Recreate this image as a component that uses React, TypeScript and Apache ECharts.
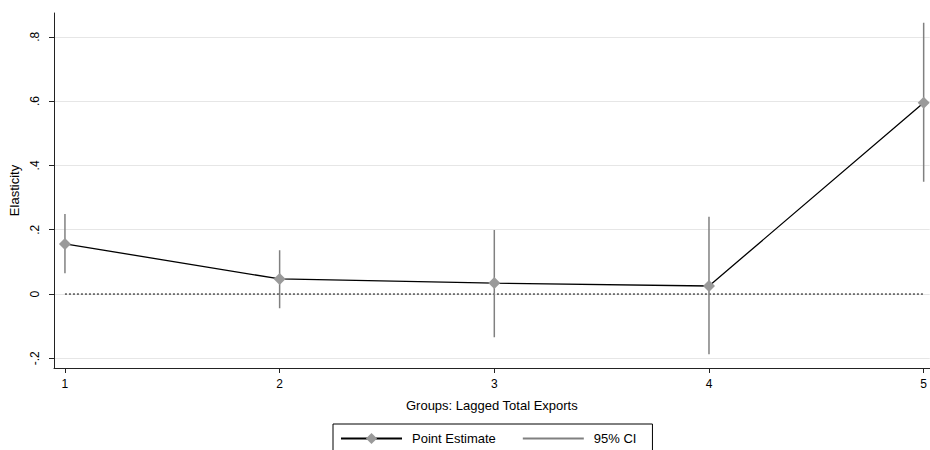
import React, { useEffect, useRef } from "react";
import * as echarts from "echarts";

const groups = [1, 2, 3, 4, 5];
const xTickLabels = ["1", "2", "3", "4", "5"];
const pointEstimates = [0.156, 0.047, 0.034, 0.025, 0.595];
const ciLower = [0.065, -0.044, -0.134, -0.187, 0.349];
const ciUpper = [0.249, 0.136, 0.199, 0.24, 0.844];
const yTickValues = [-0.2, 0, 0.2, 0.4, 0.6, 0.8];
const yTickLabels = ["-.2", "0", ".2", ".4", ".6", ".8"];
const referenceValue = 0;

const FONT = "'Liberation Sans', Arial, sans-serif";

export default function App() {
  const ref = useRef<HTMLDivElement>(null);
  useEffect(() => {
    const chart = echarts.init(ref.current!, null, { renderer: "svg" });
    const ciData: any[] = [];
    groups.forEach((g, i) => {
      ciData.push([g, ciLower[i]], [g, ciUpper[i]], [g, "-"]);
    });
    const estData = groups.map((g, i) => [g, pointEstimates[i]]);
    const zeroData = [
      [groups[0], referenceValue],
      [groups[groups.length - 1], referenceValue],
    ];
    const labelFor = (vals: number[], labels: string[]) => (v: number) => {
      const idx = vals.findIndex((t) => Math.abs(t - v) < 1e-9);
      return idx >= 0 ? labels[idx] : "";
    };
    chart.setOption({
      animation: false,
      textStyle: { fontFamily: FONT },
      grid: { left: 54, right: 0, top: 13, bottom: 82, containLabel: false },
      xAxis: {
        type: "value",
        min: 0.949,
        max: 5.028,
        name: "Groups: Lagged Total Exports",
        nameLocation: "middle",
        nameGap: 31,
        nameTextStyle: { fontSize: 13, color: "#000", fontFamily: FONT },
        axisLine: { show: true, onZero: false, lineStyle: { color: "#222", width: 1 } },
        axisTick: { show: true, length: 5, customValues: groups, lineStyle: { color: "#222" } },
        axisLabel: {
          customValues: groups,
          formatter: labelFor(groups, xTickLabels),
          fontSize: 12,
          color: "#000",
          margin: 10,
          fontFamily: FONT,
        },
        splitLine: { show: false },
      },
      yAxis: {
        type: "value",
        min: -0.23,
        max: 0.874,
        name: "Elasticity",
        nameLocation: "middle",
        nameGap: 31,
        nameTextStyle: { fontSize: 13, color: "#000", fontFamily: FONT },
        axisLine: { show: true, onZero: false, lineStyle: { color: "#222", width: 1 } },
        axisTick: { show: true, length: 5, customValues: yTickValues, lineStyle: { color: "#222" } },
        axisLabel: {
          customValues: yTickValues,
          formatter: labelFor(yTickValues, yTickLabels),
          rotate: 90,
          fontSize: 12,
          color: "#000",
          margin: 13,
          fontFamily: FONT,
        },
        splitLine: { show: true, lineStyle: { color: "#e6e6e6", width: 1 } },
      },
      legend: {
        data: [
          { name: "Point Estimate" },
          {
            name: "95% CI",
            itemStyle: { color: "rgba(0,0,0,0)", borderColor: "rgba(0,0,0,0)", borderWidth: 0 },
          },
        ],
        left: 333,
        top: 424,
        orient: "horizontal",
        padding: [8, 16, 8, 7],
        itemWidth: 61,
        itemHeight: 14,
        itemGap: 26,
        borderColor: "#000",
        borderWidth: 1,
        borderRadius: 0,
        textStyle: { fontSize: 13, color: "#000", fontFamily: FONT, padding: [0, 0, 0, 5] },
      },
      series: [
        {
          name: "zero",
          type: "line",
          data: zeroData,
          symbol: "none",
          silent: true,
          lineStyle: { color: "#000", width: 1, type: [2, 2] },
          z: 2,
        },
        {
          name: "95% CI",
          type: "line",
          data: ciData,
          symbol: "none",
          connectNulls: false,
          lineStyle: { color: "#808080", width: 1.5 },
          itemStyle: { color: "#808080" },
          z: 3,
        },
        {
          name: "Point Estimate",
          type: "line",
          data: estData,
          symbol: "diamond",
          symbolSize: 12,
          showSymbol: true,
          lineStyle: { color: "#000", width: 1.3 },
          itemStyle: { color: "#9a9a9a" },
          z: 4,
        },
      ],
    });
    return () => chart.dispose();
  }, []);
  return (
    <div
      ref={ref}
      style={{ position: "fixed", left: 0, top: 0, width: 930, height: 450, background: "#fff" }}
    />
  );
}
